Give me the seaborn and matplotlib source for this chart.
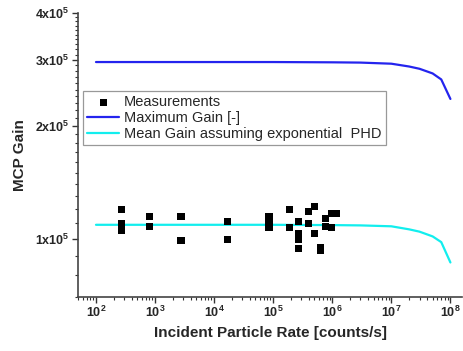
import numpy as np
import pandas as pd
import matplotlib
matplotlib.use("Agg")
import matplotlib.pyplot as plt
import matplotlib.ticker as mticker
import seaborn as sns

# --- data ---
rate_curve = [1e2, 1e3, 1e4, 1e5, 1e6, 3e6, 1e7, 2e7, 3e7, 5e7, 7e7, 1e8]
max_gain = [2.96e5, 2.96e5, 2.96e5, 2.96e5, 2.955e5, 2.95e5, 2.93e5, 2.88e5,
            2.84e5, 2.76e5, 2.66e5, 2.36e5]
mean_gain = [1.09e5, 1.09e5, 1.09e5, 1.09e5, 1.088e5, 1.086e5, 1.08e5, 1.06e5,
             1.045e5, 1.015e5, 0.98e5, 0.865e5]

meas_rate = [2.7e2, 2.7e2, 2.7e2,
             8e2, 8e2,
             2.75e3, 2.75e3,
             1.7e4, 1.7e4,
             8.5e4, 8.5e4, 8.5e4,
             1.86e5, 1.86e5,
             2.7e5, 2.7e5, 2.7e5, 2.7e5,
             4e5, 4e5,
             5e5, 5e5,
             6.3e5, 6.3e5,
             7.6e5, 7.6e5,
             9.7e5, 9.7e5,
             1.2e6]
meas_gain = [1.20e5, 1.10e5, 1.05e5,
             1.15e5, 1.08e5,
             1.15e5, 0.99e5,
             1.11e5, 0.995e5,
             1.15e5, 1.11e5, 1.07e5,
             1.20e5, 1.07e5,
             1.11e5, 1.035e5, 0.995e5, 0.94e5,
             1.18e5, 1.10e5,
             1.22e5, 1.035e5,
             0.95e5, 0.93e5,
             1.13e5, 1.08e5,
             1.17e5, 1.07e5,
             1.17e5]

x_ticks = [1e2, 1e3, 1e4, 1e5, 1e6, 1e7, 1e8]
y_ticks = [1e5, 2e5, 3e5, 4e5]

curves = pd.DataFrame({"rate": rate_curve, "max": max_gain, "mean": mean_gain})
meas = pd.DataFrame({"rate": meas_rate, "gain": meas_gain})

sns.set_style("ticks")
plt.rcParams["font.family"] = ["Liberation Sans", "DejaVu Sans"]
plt.rcParams["mathtext.fontset"] = "custom"
plt.rcParams["mathtext.rm"] = "Liberation Sans"
plt.rcParams["mathtext.bf"] = "Liberation Sans:bold"

fig = plt.figure(figsize=(4.64, 3.51), dpi=100)
ax = fig.add_axes([0.168, 0.154, 0.828, 0.809])

sns.scatterplot(data=meas, x="rate", y="gain", ax=ax, marker="s", s=26,
                color="black", edgecolor="none", label="Measurements", zorder=3)
sns.lineplot(data=curves, x="rate", y="max", ax=ax, color="#2424ee",
             linewidth=1.6, label="Maximum Gain [-]")
sns.lineplot(data=curves, x="rate", y="mean", ax=ax, color="#12eeee",
             linewidth=1.6, label="Mean Gain assuming exponential  PHD")

ax.set_xscale("log")
ax.set_yscale("log")
ax.set_xlim(49.5, 1.58e8)
ax.set_ylim(0.70e5, 4e5)

ax.xaxis.set_major_locator(mticker.FixedLocator(x_ticks))
ax.xaxis.set_minor_locator(mticker.LogLocator(base=10, subs=np.arange(2, 10)))
ax.xaxis.set_major_formatter(mticker.FuncFormatter(
    lambda v, p: r"$\mathbf{10^{%d}}$" % round(np.log10(v))))
ax.xaxis.set_minor_formatter(mticker.NullFormatter())

ax.yaxis.set_major_locator(mticker.FixedLocator(y_ticks))
minor_y = [v * 1e4 for v in range(7, 40) if v % 10 != 0]
ax.yaxis.set_minor_locator(mticker.FixedLocator(minor_y))
ax.yaxis.set_major_formatter(mticker.FuncFormatter(
    lambda v, p: r"$\mathbf{%dx10^{5}}$" % round(v / 1e5)))
ax.yaxis.set_minor_formatter(mticker.NullFormatter())

ax.tick_params(which="major", direction="out", length=4, width=1,
               labelsize=9, color="#333333", pad=2)
ax.tick_params(which="minor", direction="out", length=2.5, width=0.8,
               color="#333333")
for side in ["left", "bottom"]:
    ax.spines[side].set_color("#444444")
    ax.spines[side].set_linewidth(1.2)
sns.despine(ax=ax)

ax.set_xlabel("Incident Particle Rate [counts/s]", fontsize=11,
              fontweight="bold", labelpad=4)
ax.set_ylabel("MCP Gain", fontsize=11, fontweight="bold", labelpad=6)

leg = ax.legend(loc="upper left", bbox_to_anchor=(0.013, 0.725),
                borderaxespad=0, fontsize=10.5, frameon=True, fancybox=False,
                edgecolor="#999999", framealpha=1, handlelength=2.2,
                labelspacing=0.12, handletextpad=0.3, borderpad=0.3)
leg.get_frame().set_linewidth(0.9)

fig.savefig("out.png", dpi=100)
